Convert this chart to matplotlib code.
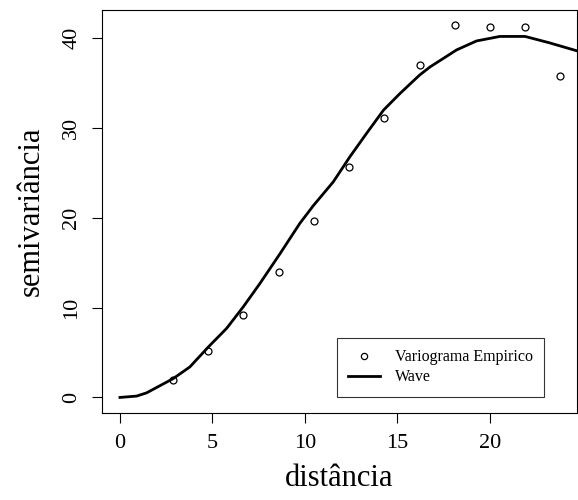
import matplotlib
matplotlib.use("Agg")
import matplotlib.pyplot as plt

# empirical variogram
dist = [2.88, 4.77, 6.67, 8.58, 10.47, 12.36, 14.25, 16.2, 18.13, 20.0, 21.9, 23.78]
gamma = [1.93, 5.16, 9.2, 13.95, 19.67, 25.65, 31.15, 36.97, 41.46, 41.27, 41.27, 35.78]

# fitted wave model
wave_h = [0, 0.9, 1.44, 2.88, 3.78, 4.77, 5.77, 6.67, 7.57, 8.65, 9.73, 10.47, 11.53,
          12.43, 13.33, 14.25, 15.14, 16.2, 16.76, 18.2, 19.28, 20.54, 21.9, 23.2, 24.7]
wave_g = [0, 0.15, 0.51, 2.1, 3.4, 5.6, 7.7, 10.1, 12.7, 16.0, 19.4, 21.4, 24.0,
          26.8, 29.4, 32.0, 33.85, 35.9, 36.8, 38.7, 39.7, 40.2, 40.2, 39.5, 38.6]

xticks = [0, 5, 10, 15, 20]
yticks = [0, 10, 20, 30, 40]

plt.rcParams['font.family'] = ['Liberation Serif', 'DejaVu Serif']

fig = plt.figure(figsize=(5.78, 5.0), dpi=100)
ax = fig.add_axes([0.1765, 0.1746, 0.8215, 0.8064])

ax.plot(dist, gamma, 'o', mfc='none', mec='black', ms=5, mew=0.9,
        label='Variograma Empirico')
ax.plot(wave_h, wave_g, '-', color='black', lw=2, label='Wave')

ax.set_xlim(-0.97, 24.7)
ax.set_ylim(-1.7, 43.2)
ax.set_xticks(xticks)
ax.set_yticks(yticks)
ax.tick_params(direction='out', length=7, width=0.8, labelsize=16, pad=8)
for lbl in ax.get_yticklabels():
    lbl.set_rotation(90)
    lbl.set_va('center')
for s in ax.spines.values():
    s.set_linewidth(0.8)

ax.set_xlabel('distância', fontsize=22, labelpad=8)
ax.set_ylabel('semivariância', fontsize=22, labelpad=12)

leg = ax.legend(loc='lower right', bbox_to_anchor=(0.9305, 0.04), borderaxespad=0,
                fontsize=11.5, frameon=True, fancybox=False, edgecolor='black',
                handlelength=2.0, handletextpad=0.9, borderpad=0.7, labelspacing=0.25)
leg.get_frame().set_linewidth(0.8)
leg.legend_handles[0].set_markersize(4.5)

fig.savefig('out.png', dpi=100)
